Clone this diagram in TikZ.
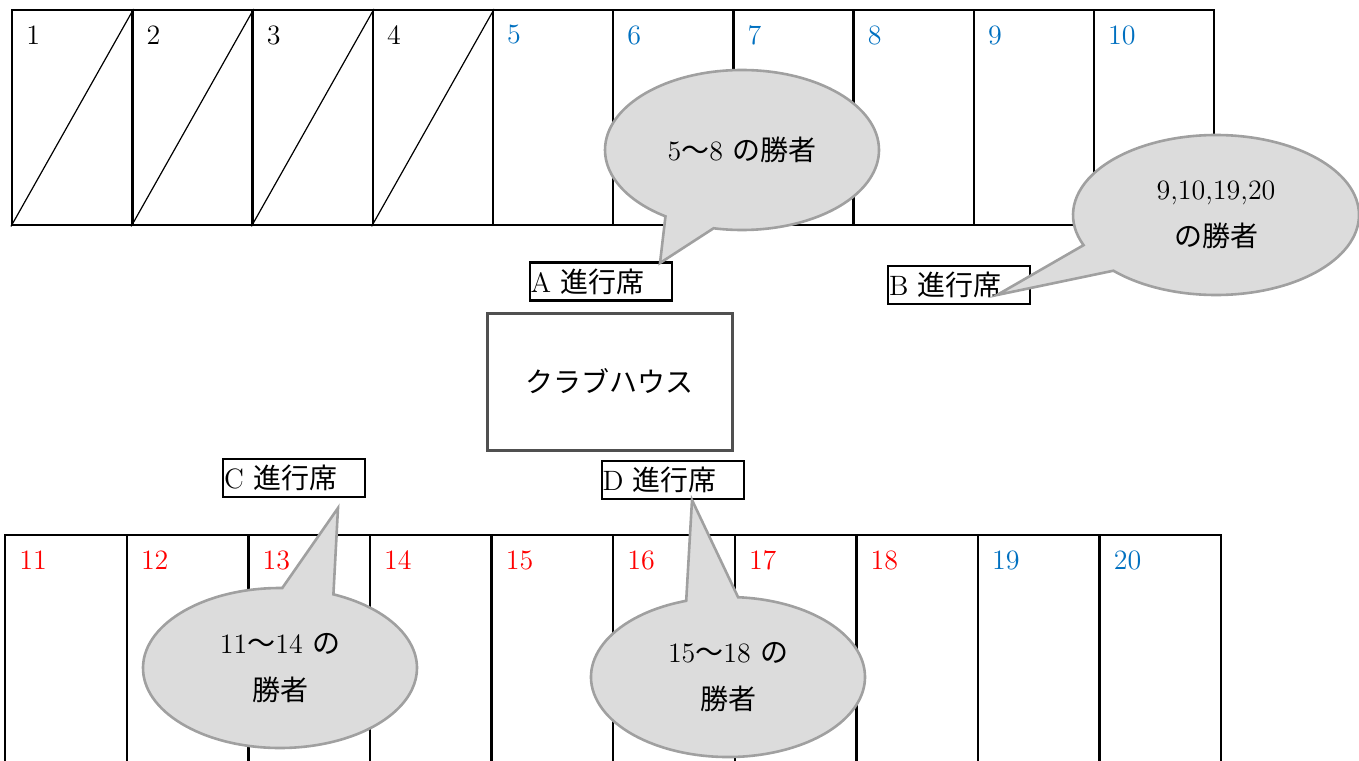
\documentclass[tikz,border=0pt]{standalone}
\usepackage{fontspec}
\newfontfamily\jp{Noto Sans CJK JP}
\usepackage{tikz}
\usetikzlibrary{positioning}
\usetikzlibrary{shapes.callouts}
\definecolor{numblue}{RGB}{0,112,192}
\definecolor{numred}{RGB}{255,0,0}
\definecolor{bubblefill}{RGB}{220,220,220}
\definecolor{bubbleline}{RGB}{160,160,160}
\definecolor{houseline}{RGB}{80,80,80}

\begin{document}
\begin{tikzpicture}[
    x=0.5pt, y=-0.5pt,              % one unit = one pixel of the layout
    font=\fontsize{14}{17}\selectfont,
    ]
% -------------------------------------------------
\tikzset{
  cell/.style={draw, line width=1.2pt, rectangle, anchor=north west, inner sep=0pt, minimum width=60.1pt, minimum height=107.5pt},
  lowcell/.style={cell, minimum width=60.8pt, minimum height=123pt},
  num/.style={anchor=north west, inner sep=0pt, xshift=7.5pt, yshift=-8pt},
  desk/.style={draw, line width=1.1pt, rectangle, inner sep=0pt, inner xsep=0.5pt, text width=70pt, minimum height=19pt, align=left},
  house/.style={draw=houseline, line width=1.5pt, rectangle, minimum width=122.5pt, minimum height=68.5pt},
  bubble/.style={ellipse callout, draw=bubbleline, fill=bubblefill, line width=1.3pt, callout pointer arc=22, minimum width=137pt, minimum height=80pt, inner sep=0pt, align=center, font=\fontsize{14}{23.5}\selectfont}
}
\clip (0,0) rectangle (1359,760);
% -------------------------------------------------
% Upper row of courts

\foreach \i/\c in {1/black,2/black,3/black,4/black,5/numblue,6/numblue,7/numblue,8/numblue,9/numblue,10/numblue}
{
  \node [cell] (t\i) at ({11+(\i-1)*120.2},9) {};
  \node [num, text=\c] (n\i) at (t\i.north west) {\i};
}
\foreach \i in {1,...,4}
  \draw [line width=0.6pt] (t\i.south west) -- (t\i.north east);

% Lower row of courts

\foreach \i/\c in {11/numred,12/numred,13/numred,14/numred,15/numred,16/numred,17/numred,18/numred,19/numblue,20/numblue}
{
  \node [lowcell] (b\i) at ({4+(\i-11)*121.6},534) {};
  \node [num, text=\c] (n\i) at (b\i.north west) {\i};
}

% -------------------------------------------------
% Club house and desks

\node [house] (club) at (609.5,381.5) {\jp クラブハウス};
\node [desk, above right=5pt and 21.5pt of club.north west] (deskA) {A {\jp 進行席}};
\node [desk, below right=4pt and 57.5pt of club.south west] (deskD) {D {\jp 進行席}};
\node [desk, anchor=north west] (deskB) at (887,265) {B {\jp 進行席}};
\node [desk, anchor=north west] (deskC) at (222,458) {C {\jp 進行席}};

% -------------------------------------------------
% Speech bubbles

\node [bubble, callout absolute pointer={(660,263)}] (winA) at (742,150) {5{\jp 〜}8 {\jp の勝者}};
\node [bubble, minimum width=143pt, callout absolute pointer={(997,295)}] (winB) at (1216,215) {9,10,19,20\\{\jp の勝者}};
\node [bubble, callout absolute pointer={(338,508)}] (winC) at (280,668) {11{\jp 〜}14 {\jp の}\\{\jp 勝者}};
\node [bubble, callout absolute pointer={(692,500)}] (winD) at (728,677) {15{\jp 〜}18 {\jp の}\\{\jp 勝者}};

\end{tikzpicture}
\end{document}
